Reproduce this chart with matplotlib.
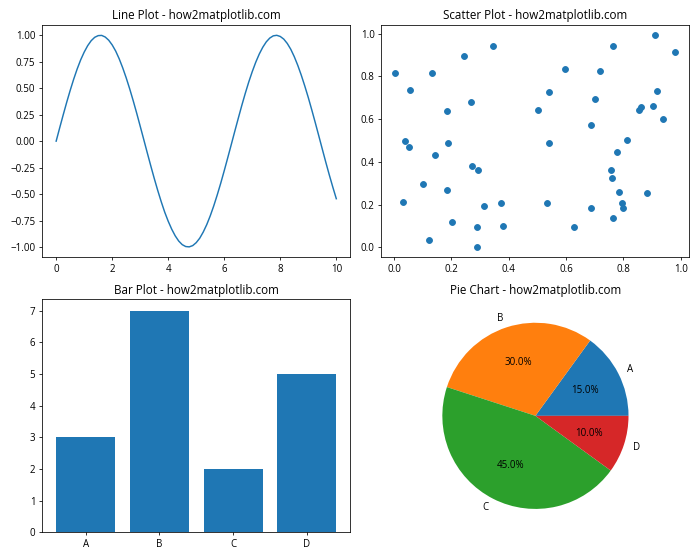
import matplotlib
matplotlib.use("Agg")
import matplotlib.pyplot as plt

plt.rcParams['font.family'] = ['Open Sans', 'DejaVu Sans']

# line plot values (step 0.125)
line_x = [i * 0.125 for i in range(81)]
line_y = [0.000, 0.125, 0.247, 0.366, 0.479, 0.585, 0.682, 0.768, 0.841, 0.902,
          0.949, 0.981, 0.997, 0.999, 0.984, 0.954, 0.909, 0.851, 0.778, 0.693,
          0.598, 0.494, 0.382, 0.264, 0.141, 0.017, -0.108, -0.231, -0.351, -0.465,
          -0.572, -0.671, -0.757, -0.832, -0.895, -0.944, -0.978, -0.996, -0.999, -0.987,
          -0.959, -0.917, -0.859, -0.789, -0.706, -0.612, -0.508, -0.397, -0.279, -0.157,
          -0.033, 0.092, 0.215, 0.336, 0.451, 0.559, 0.657, 0.746, 0.823, 0.887,
          0.938, 0.974, 0.995, 1.000, 0.989, 0.964, 0.923, 0.868, 0.798, 0.716,
          0.623, 0.521, 0.412, 0.295, 0.174, 0.050, -0.075, -0.199, -0.319, -0.434,
          -0.544]

# scatter points
scatter_x = [0.004, 0.133, 0.056, 0.243, 0.344, 0.267, 0.183, 0.039, 0.053, 0.188,
             0.144, 0.270, 0.292, 0.099, 0.183, 0.032, 0.313, 0.372, 0.201, 0.289,
             0.380, 0.123, 0.289,
             0.909, 0.765, 0.982, 0.597, 0.719, 0.540, 0.919, 0.702, 0.502, 0.856,
             0.860, 0.905, 0.940, 0.688, 0.540, 0.814, 0.779, 0.758, 0.761, 0.786,
             0.884, 0.533, 0.688, 0.795, 0.800, 0.765, 0.628]
scatter_y = [0.817, 0.817, 0.736, 0.897, 0.940, 0.679, 0.637, 0.499, 0.471, 0.487,
             0.433, 0.381, 0.362, 0.295, 0.267, 0.210, 0.191, 0.205, 0.120, 0.096,
             0.101, 0.035, 0.002,
             0.992, 0.940, 0.916, 0.836, 0.826, 0.727, 0.731, 0.694, 0.641, 0.641,
             0.656, 0.660, 0.599, 0.570, 0.490, 0.504, 0.447, 0.362, 0.324, 0.258,
             0.253, 0.205, 0.186, 0.205, 0.186, 0.139, 0.096]

# bar plot
categories = ['A', 'B', 'C', 'D']
bar_values = [3, 7, 2, 5]

# pie chart
pie_sizes = [15, 30, 45, 10]

fig, axs = plt.subplots(2, 2, figsize=(10, 8))

axs[0, 0].plot(line_x, line_y)
axs[0, 0].set_title('Line Plot - how2matplotlib.com')

axs[0, 1].scatter(scatter_x, scatter_y)
axs[0, 1].set_title('Scatter Plot - how2matplotlib.com')

axs[1, 0].bar(categories, bar_values)
axs[1, 0].set_title('Bar Plot - how2matplotlib.com')

axs[1, 1].pie(pie_sizes, labels=categories, autopct='%1.1f%%')
axs[1, 1].set_title('Pie Chart - how2matplotlib.com')

plt.tight_layout()
plt.savefig('out.png', dpi=70)
